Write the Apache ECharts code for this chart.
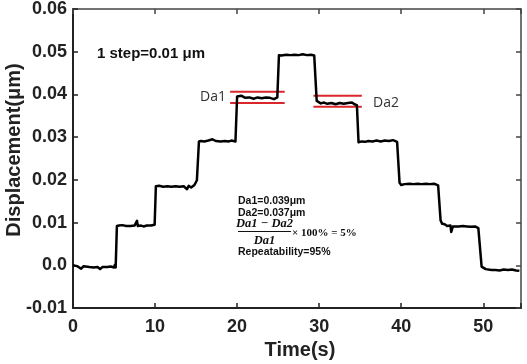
<!DOCTYPE html>
<html>
<head>
<meta charset="utf-8">
<script src="https://cdn.jsdelivr.net/npm/echarts@6/dist/echarts.min.js"></script>
<style>
html,body{margin:0;padding:0;background:#fff;}
#chart{width:527px;height:364px;}
</style>
</head>
<body>
<div id="chart"></div>
<script>
// ---- data ----
var timeValues = [0,0.5,1,1.3,2,2.5,3,3.3,3.6,4.2,4.6,5,5.1,5.2,
  5.35,5.6,6,6.5,7,7.5,7.8,7.9,8.3,8.6,9,9.5,9.95,
  10.1,10.5,11,11.5,12,12.5,13,13.5,13.9,14.1,14.4,14.8,15.1,
  15.35,15.6,16,16.5,17,17.4,18,18.5,19,19.3,19.5,19.8,
  20.0,20.2,20.5,21,21.5,22,22.5,23,23.5,24,24.5,24.9,
  25.1,25.4,26,26.5,27,27.5,28,28.5,29,29.4,
  29.7,29.9,30.2,30.6,31,31.5,32,32.5,33,33.5,34,34.3,34.6,
  34.8,35.2,35.6,36,36.5,37,37.5,38,38.5,39,39.5,
  39.8,40,40.4,41,41.5,42,42.5,43,43.5,44,44.5,
  44.8,45,45.3,45.6,46,46.1,46.3,47,47.5,48,48.5,49,49.4,49.6,
  49.8,50,50.3,51,51.5,52,52.5,53,53.5,54,54.4];
var displacement = [0,-0.0002,-0.0008,-0.0002,-0.0004,-0.0005,-0.0004,-0.0009,-0.0004,-0.0004,-0.0003,-0.0005,0.0001,-0.0005,
  0.0092,0.0093,0.0094,0.0092,0.0092,0.0093,0.0104,0.0092,0.0093,0.0091,0.0093,0.0093,0.0095,
  0.0185,0.0186,0.0184,0.0185,0.0184,0.0185,0.0184,0.0185,0.0178,0.0186,0.0182,0.0188,0.0199,
  0.0290,0.0291,0.0290,0.0292,0.0295,0.0291,0.0290,0.0291,0.0290,0.0292,0.0289,0.0290,
  0.0395,0.0394,0.0397,0.0392,0.0393,0.0390,0.0393,0.0391,0.0393,0.0392,0.0389,0.0393,
  0.0492,0.0491,0.0493,0.0492,0.0493,0.0492,0.0494,0.0492,0.0493,0.0491,
  0.0385,0.0383,0.0379,0.0381,0.0378,0.0380,0.0377,0.0380,0.0378,0.0380,0.0381,0.0377,0.0375,
  0.0288,0.0290,0.0289,0.0291,0.0290,0.0292,0.0290,0.0292,0.0291,0.0293,0.0289,
  0.0193,0.0188,0.0190,0.0191,0.0190,0.0191,0.0190,0.0191,0.0190,0.0191,0.0187,
  0.0105,0.0097,0.0096,0.0092,0.0093,0.0078,0.0091,0.0091,0.0092,0.0091,0.0090,0.0091,0.0087,0.0083,
  -0.0003,-0.0005,-0.0009,-0.0011,-0.0011,-0.0012,-0.0010,-0.0011,-0.0010,-0.0012,-0.0013];
// red reference bands
var da1Range = [19.15, 25.8];
var da1Levels = [0.0406, 0.0380];
var da2Range = [29.3, 35.2];
var da2Levels = [0.0397, 0.0371];
var xTicks = [0, 10, 20, 30, 40, 50];
var yTicks = [-0.01, 0, 0.01, 0.02, 0.03, 0.04, 0.05, 0.06];

var mainData = timeValues.map(function(t, i){ return [t, displacement[i]]; });
function band(range, level){ return [[range[0], level],[range[1], level]]; }

var axisColor = '#222';
var fontFam = 'Liberation Sans, Arial, sans-serif';

var chart = echarts.init(document.getElementById('chart'), null, {renderer:'canvas'});
var option = {
  animation: false,
  backgroundColor: '#fff',
  grid: {left: 73, right: 6, top: 7, bottom: 56},
  xAxis: [{
    type: 'value', min: 0, max: 54.6, interval: 10, position: 'bottom',
    axisLine: {show: true, onZero: false, lineStyle: {color: axisColor, width: 2}},
    axisTick: {show: true, inside: true, length: 5, lineStyle: {color: axisColor, width: 1.5}},
    splitLine: {show: false},
    axisLabel: {
      margin: 10, color: '#222', fontSize: 18, fontWeight: 'bold', fontFamily: fontFam,
      formatter: function(v){ var r = Math.round(v); return (xTicks.indexOf(r) >= 0 && Math.abs(v-r) < 1e-6) ? String(r) : ''; }
    }
  },{
    type: 'value', min: 0, max: 54.6, interval: 10, position: 'top',
    axisLine: {show: true, onZero: false, lineStyle: {color: '#444', width: 1.5}},
    axisTick: {show: true, inside: true, length: 5, lineStyle: {color: '#444', width: 1.5}},
    axisLabel: {show: false}, splitLine: {show: false}
  }],
  yAxis: [{
    type: 'value', min: -0.01, max: 0.06, interval: 0.01, position: 'left',
    axisLine: {show: true, onZero: false, lineStyle: {color: axisColor, width: 2}},
    axisTick: {show: true, inside: true, length: 5, lineStyle: {color: axisColor, width: 1.5}},
    splitLine: {show: false},
    axisLabel: {
      margin: 6, color: '#222', fontSize: 18, fontWeight: 'bold', fontFamily: fontFam,
      formatter: function(v){ var r = Math.round(v*100)/100; if (Math.abs(r) < 1e-9) return '0.0'; return r.toFixed(2); }
    }
  },{
    type: 'value', min: -0.01, max: 0.06, interval: 0.01, position: 'right',
    axisLine: {show: true, onZero: false, lineStyle: {color: '#444', width: 1.5}},
    axisTick: {show: true, inside: true, length: 5, lineStyle: {color: '#444', width: 1.5}},
    axisLabel: {show: false}, splitLine: {show: false}
  }],
  series: [
    {type: 'line', data: band(da1Range, da1Levels[0]), symbol: 'none', lineStyle: {color: '#d9262b', width: 2}, z: 3},
    {type: 'line', data: band(da1Range, da1Levels[1]), symbol: 'none', lineStyle: {color: '#d9262b', width: 2}, z: 3},
    {type: 'line', data: band(da2Range, da2Levels[0]), symbol: 'none', lineStyle: {color: '#d9262b', width: 2}, z: 3},
    {type: 'line', data: band(da2Range, da2Levels[1]), symbol: 'none', lineStyle: {color: '#d9262b', width: 2}, z: 3},
    {type: 'line', data: mainData, symbol: 'none', lineStyle: {color: '#000', width: 2.5, join: 'round'}, z: 4}
  ],
  graphic: [
    {type: 'text', x: 14, y: 150, rotation: Math.PI/2,
      style: {text: 'Displacement(μm)', font: 'bold 20px ' + fontFam, fill: '#222', align: 'center', verticalAlign: 'middle'}},
    {type: 'text', x: 300, y: 350,
      style: {text: 'Time(s)', font: 'bold 20px ' + fontFam, fill: '#222', align: 'center', verticalAlign: 'middle'}},
    {type: 'text', x: 97, y: 54,
      style: {text: '1 step=0.01 μm', font: 'bold 15px ' + fontFam, fill: '#111', align: 'left', verticalAlign: 'middle'}},
    {type: 'text', x: 200, y: 97,
      style: {text: 'Da1', font: '14px "Open Sans", ' + fontFam, fill: '#333', align: 'left', verticalAlign: 'middle'}},
    {type: 'text', x: 373, y: 103,
      style: {text: 'Da2', font: '14px "Open Sans", ' + fontFam, fill: '#333', align: 'left', verticalAlign: 'middle'}},
    {type: 'text', x: 238, y: 201,
      style: {text: 'Da1=0.039μm', font: 'bold 10.5px ' + fontFam, fill: '#111', align: 'left', verticalAlign: 'middle'}},
    {type: 'text', x: 238, y: 213,
      style: {text: 'Da2=0.037μm', font: 'bold 10.5px ' + fontFam, fill: '#111', align: 'left', verticalAlign: 'middle'}},
    {type: 'text', x: 264.5, y: 224,
      style: {text: 'Da1 − Da2', font: 'italic bold 12.5px "Liberation Serif", serif', fill: '#111', align: 'center', verticalAlign: 'middle'}},
    {type: 'line', shape: {x1: 238, y1: 231.5, x2: 291, y2: 231.5}, style: {stroke: '#111', lineWidth: 1}},
    {type: 'text', x: 264.5, y: 240.5,
      style: {text: 'Da1', font: 'italic bold 12.5px "Liberation Serif", serif', fill: '#111', align: 'center', verticalAlign: 'middle'}},
    {type: 'text', x: 292, y: 233,
      style: {text: '× 100% = 5%', font: 'bold 11px "Liberation Serif", serif', fill: '#111', align: 'left', verticalAlign: 'middle'}},
    {type: 'text', x: 238, y: 252,
      style: {text: 'Repeatability=95%', font: 'bold 10.5px ' + fontFam, fill: '#111', align: 'left', verticalAlign: 'middle'}}
  ]
};
chart.setOption(option);
</script>
</body>
</html>
